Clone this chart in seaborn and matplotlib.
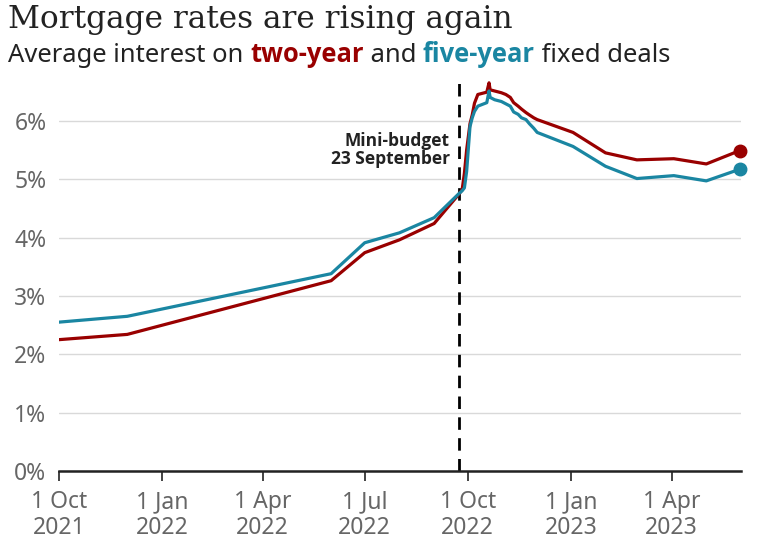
import pandas as pd
import seaborn as sns
import matplotlib.pyplot as plt

# ---- data ----
two_year_dates = [
    "2021-10-01", "2021-12-01", "2022-06-01", "2022-07-01", "2022-08-01",
    "2022-09-01", "2022-09-23", "2022-09-26", "2022-09-28", "2022-09-30",
    "2022-10-03", "2022-10-05", "2022-10-07", "2022-10-10", "2022-10-14",
    "2022-10-18", "2022-10-20", "2022-10-21", "2022-10-25", "2022-10-31",
    "2022-11-04", "2022-11-08", "2022-11-11", "2022-11-15", "2022-11-18",
    "2022-11-22", "2022-11-25", "2022-11-29", "2022-12-02", "2023-01-03",
    "2023-02-01", "2023-03-01", "2023-04-03", "2023-05-02", "2023-06-01",
]
two_year_rates = [
    2.25, 2.34, 3.26, 3.74, 3.96,
    4.24, 4.74, 4.82, 5.10, 5.50,
    5.95, 6.10, 6.30, 6.45, 6.47,
    6.49, 6.65, 6.53, 6.51, 6.48,
    6.45, 6.40, 6.31, 6.25, 6.20,
    6.14, 6.10, 6.05, 6.02, 5.80,
    5.45, 5.33, 5.35, 5.26, 5.49,
]

five_year_dates = two_year_dates
five_year_rates = [
    2.55, 2.65, 3.38, 3.91, 4.08,
    4.34, 4.75, 4.80, 4.85, 5.13,
    5.90, 6.05, 6.16, 6.25, 6.28,
    6.31, 6.51, 6.40, 6.36, 6.33,
    6.29, 6.25, 6.15, 6.11, 6.05,
    6.02, 5.95, 5.87, 5.80, 5.56,
    5.22, 5.01, 5.06, 4.97, 5.17,
]

tick_dates = ["2021-10-01", "2022-01-01", "2022-04-01", "2022-07-01",
              "2022-10-01", "2023-01-01", "2023-04-01"]
tick_labels = ["1 Oct\n2021", "1 Jan\n2022", "1 Apr\n2022", "1 Jul\n2022",
               "1 Oct\n2022", "1 Jan\n2023", "1 Apr\n2023"]
y_ticks = [0, 1, 2, 3, 4, 5, 6]

mini_budget = "2022-09-23"

RED = "#990000"
BLUE = "#1a86a2"
BOLD_FONT = ["Open Sans", "DejaVu Sans"]

df = pd.concat([
    pd.DataFrame({"date": pd.to_datetime(two_year_dates), "rate": two_year_rates, "deal": "two-year"}),
    pd.DataFrame({"date": pd.to_datetime(five_year_dates), "rate": five_year_rates, "deal": "five-year"}),
])

sns.set_theme(style="white")
plt.rcParams["font.family"] = ["Noto Sans", "DejaVu Sans"]

fig = plt.figure(figsize=(7.58, 5.44), dpi=100)
ax = fig.add_axes([0.0778, 0.1342, 0.8998, 0.7243])

sns.lineplot(data=df, x="date", y="rate", hue="deal",
             palette={"two-year": RED, "five-year": BLUE},
             linewidth=2.3, legend=False, ax=ax)

# end markers
for dates, rates, col in [(two_year_dates, two_year_rates, RED),
                          (five_year_dates, five_year_rates, BLUE)]:
    ax.plot(pd.to_datetime(dates[-1]), rates[-1], "o", color=col,
            markersize=9, clip_on=False, zorder=5)

ax.set_xlim(pd.Timestamp("2021-10-01"), pd.Timestamp("2023-06-02"))
ax.set_ylim(0, 6.75)

ax.set_yticks(y_ticks)
ax.set_yticklabels([f"{v}%" for v in y_ticks])
ax.set_xticks(pd.to_datetime(tick_dates))
ax.set_xticklabels(tick_labels, linespacing=1.1)

ax.grid(axis="y", color="#d9d9d9", linewidth=1)
ax.grid(axis="x", visible=False)
for s in ["top", "right", "left"]:
    ax.spines[s].set_visible(False)
ax.spines["bottom"].set_color("#222222")
ax.spines["bottom"].set_linewidth(1.8)

ax.tick_params(axis="y", length=0, pad=9, labelsize=16.5, labelcolor="#666666")
ax.tick_params(axis="x", length=7, width=1.2, color="#222222", pad=7,
               labelsize=16.5, labelcolor="#666666", bottom=True)
ax.set_xlabel("")
ax.set_ylabel("")

# mini-budget marker
mb = pd.Timestamp(mini_budget)
ax.axvline(mb, ymin=0, ymax=0.985, color="black", linewidth=2,
           linestyle=(0, (4.5, 3)), zorder=1)
ax.text(mb - pd.Timedelta(days=8), 5.5, "Mini-budget\n23 September",
        ha="right", va="center", fontsize=12.5, fontweight="bold",
        family=BOLD_FONT, color="#222222", linespacing=1.0)

# titles
fig.text(0.011, 0.992, "Mortgage rates are rising again", ha="left", va="top",
         fontsize=22.5, family=["DejaVu Serif"], color="#222222")
sub_size = 18.4
t1 = fig.text(0.011, 0.886, "Average interest on ", ha="left", va="baseline",
              fontsize=sub_size, color="#222222")
t2 = ax.annotate("two-year", xy=(1, 0), xycoords=t1, va="bottom", ha="left",
                 fontsize=sub_size, fontweight="bold", family=BOLD_FONT, color=RED)
t3 = ax.annotate(" and ", xy=(1, 0), xycoords=t2, va="bottom", ha="left",
                 fontsize=sub_size, color="#222222")
t4 = ax.annotate("five-year", xy=(1, 0), xycoords=t3, va="bottom", ha="left",
                 fontsize=sub_size, fontweight="bold", family=BOLD_FONT, color=BLUE)
ax.annotate(" fixed deals", xy=(1, 0), xycoords=t4, va="bottom", ha="left",
            fontsize=sub_size, color="#222222")

fig.savefig("out.png", dpi=100)
